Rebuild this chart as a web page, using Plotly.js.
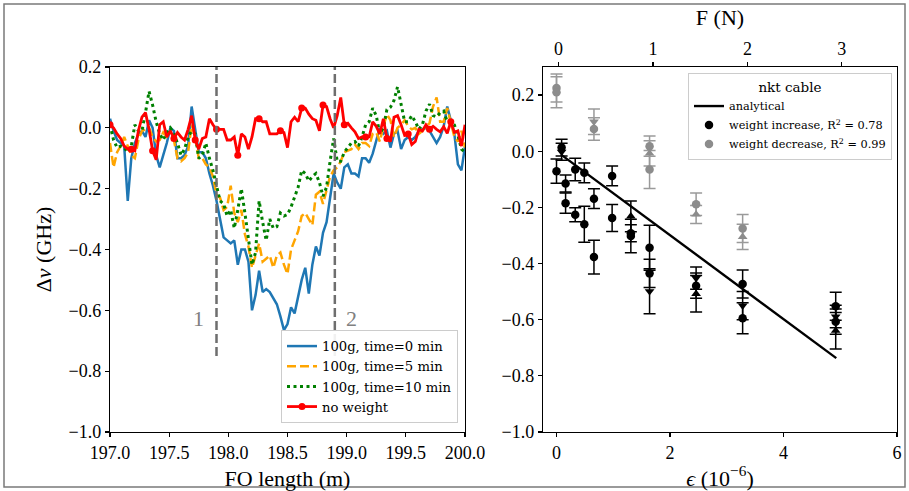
<!DOCTYPE html>
<html>
<head>
<meta charset="utf-8">
<script src="https://cdn.plot.ly/plotly-3.0.1.min.js"></script>
<style>html,body{margin:0;padding:0;background:#fff;}#chart{width:909px;height:491px;}</style>
</head>
<body>
<div id="chart"></div>
<script>
// ---------- Left panel data: frequency shift along the fibre ----------
const FO_LENGTH = [
197.00,197.03,197.06,197.09,197.12,197.15,197.18,197.21,197.24,197.27,
197.30,197.33,197.36,197.39,197.42,197.45,197.48,197.51,197.54,197.57,
197.60,197.63,197.66,197.69,197.72,197.75,197.78,197.81,197.84,197.87,
197.90,197.93,197.96,197.99,198.02,198.05,198.08,198.11,198.14,198.17,
198.20,198.23,198.26,198.29,198.32,198.35,198.38,198.41,198.44,198.47,
198.50,198.53,198.56,198.59,198.62,198.65,198.68,198.71,198.74,198.77,
198.80,198.83,198.86,198.89,198.92,198.95,198.98,199.01,199.04,199.07,
199.10,199.13,199.16,199.19,199.22,199.25,199.28,199.31,199.34,199.37,
199.40,199.43,199.46,199.49,199.52,199.55,199.58,199.61,199.64,199.67,
199.70,199.73,199.76,199.79,199.82,199.85,199.88,199.91,199.94,199.97,
200.00];

const SHIFT_T0 = [
0.03,-0.01,-0.04,-0.05,-0.06,-0.24,-0.10,-0.05,-0.02,-0.01,
-0.03,0.025,0.00,-0.09,-0.13,-0.09,-0.05,0.00,-0.01,-0.10,
-0.10,-0.09,-0.06,0.07,-0.01,-0.08,-0.08,-0.10,-0.15,-0.19,
-0.24,-0.30,-0.36,-0.37,-0.38,-0.37,-0.45,-0.40,-0.40,-0.44,
-0.60,-0.55,-0.47,-0.54,-0.53,-0.54,-0.56,-0.58,-0.62,-0.665,
-0.645,-0.59,-0.61,-0.55,-0.50,-0.46,-0.545,-0.45,-0.39,-0.42,
-0.345,-0.31,-0.23,-0.15,-0.18,-0.20,-0.13,-0.12,-0.15,-0.15,
-0.16,-0.10,-0.10,-0.115,-0.085,-0.04,0.00,-0.02,-0.01,-0.065,
-0.02,-0.01,-0.07,-0.04,-0.03,-0.04,-0.03,-0.01,-0.005,0.00,
-0.01,-0.03,-0.05,-0.03,0.005,0.07,0.025,-0.02,-0.12,-0.14,
-0.06];

const SHIFT_T5 = [
-0.05,-0.13,-0.08,-0.06,-0.03,-0.06,-0.09,-0.10,-0.04,-0.01,
-0.005,0.00,-0.03,-0.045,-0.04,-0.015,-0.03,-0.035,-0.04,-0.10,
-0.11,-0.10,-0.08,0.01,-0.03,-0.10,-0.10,-0.12,-0.13,-0.16,
-0.22,-0.23,-0.27,-0.26,-0.19,-0.28,-0.31,-0.27,-0.35,-0.39,
-0.46,-0.42,-0.38,-0.44,-0.43,-0.42,-0.46,-0.42,-0.41,-0.45,
-0.48,-0.40,-0.37,-0.34,-0.29,-0.28,-0.30,-0.32,-0.22,-0.21,
-0.25,-0.20,-0.16,-0.14,-0.13,-0.11,-0.08,-0.075,-0.07,-0.055,
-0.07,-0.05,-0.05,-0.06,-0.02,-0.015,-0.045,0.005,0.045,0.025,
-0.03,0.00,0.01,0.025,0.005,-0.005,0.00,-0.02,-0.01,0.005,
0.015,0.07,0.10,0.02,0.02,0.065,0.02,-0.03,-0.045,-0.01,
-0.065];

const SHIFT_T10 = [
0.01,-0.04,-0.065,-0.06,-0.065,-0.08,-0.06,0.01,-0.01,-0.01,
0.05,0.12,0.075,0.02,-0.02,-0.04,-0.015,0.00,-0.02,-0.05,
-0.09,-0.07,-0.03,-0.01,-0.02,-0.10,-0.09,-0.05,-0.10,-0.14,
-0.19,-0.24,-0.25,-0.29,-0.27,-0.33,-0.27,-0.20,-0.28,-0.37,
-0.45,-0.41,-0.24,-0.31,-0.37,-0.30,-0.33,-0.325,-0.28,-0.29,
-0.285,-0.26,-0.23,-0.195,-0.14,-0.15,-0.175,-0.16,-0.15,-0.18,
-0.225,-0.195,-0.11,-0.035,-0.11,-0.11,-0.08,-0.065,-0.05,-0.045,
-0.06,-0.03,0.01,0.02,0.065,0.04,-0.02,0.00,0.06,0.068,
0.09,0.135,0.08,0.02,0.02,0.04,0.02,-0.005,0.01,0.055,
0.078,0.04,0.036,0.05,0.055,0.02,0.02,0.01,-0.025,-0.07,
-0.08];

const SHIFT_NOWEIGHT = [
0.01,0.00,-0.02,-0.035,-0.06,-0.07,-0.07,-0.075,-0.01,0.035,
0.05,-0.005,-0.075,-0.105,0.01,0.02,-0.03,-0.01,-0.035,-0.015,
-0.03,-0.04,-0.005,0.04,-0.04,-0.07,-0.035,-0.03,0.03,0.01,
-0.005,-0.005,-0.005,-0.04,-0.04,-0.03,-0.09,-0.02,-0.03,-0.07,
-0.03,0.03,0.03,0.02,0.02,-0.02,-0.02,-0.02,-0.01,-0.015,
-0.065,0.02,0.035,0.02,0.065,0.065,0.045,0.03,0.025,-0.01,
0.075,0.07,0.03,0.00,0.04,0.10,0.01,0.015,0.00,-0.013,
-0.035,-0.03,-0.03,-0.03,0.02,0.005,-0.02,0.03,-0.035,-0.045,
0.035,0.04,0.01,-0.025,-0.02,-0.055,-0.045,-0.005,-0.01,0.01,
-0.005,0.005,-0.005,-0.013,0.004,-0.018,0.02,-0.015,-0.01,-0.06,
0.01];

const SERIES_NAMES = ['100g, time=0 min','100g, time=5 min','100g, time=10 min','no weight'];
const SECTION_BOUNDS = [197.9, 198.9];
const SECTION_LABELS = ['1','2'];
const SECTION_LABEL_X = [197.75, 199.045];
const SECTION_LABEL_Y = -0.626;
const SECTION_LINE_Y = [-0.75, 0.2];

// ---------- Right panel data: shift vs strain ----------
const INC_EPS = [0.0,0.09,0.09,0.16,0.16,0.33,0.33,0.49,0.49,0.66,0.66,0.98,0.98,1.31,1.31,1.31,1.64,1.64,1.64,2.46,2.46,2.46,3.28,3.28,3.28,4.92,4.92,4.92,4.92];
const INC_DNU = [-0.071,0.013,-0.002,-0.115,-0.185,-0.065,-0.226,-0.077,-0.26,-0.169,-0.377,-0.088,-0.238,-0.232,-0.292,-0.302,-0.344,-0.435,-0.499,-0.452,-0.479,-0.508,-0.473,-0.55,-0.595,-0.552,-0.589,-0.607,-0.639];
const INC_ERR = [0.043,0.03,0.03,0.03,0.036,0.04,0.025,0.035,0.064,0.035,0.06,0.035,0.048,0.055,0.03,0.06,0.08,0.05,0.08,0.04,0.045,0.065,0.05,0.05,0.055,0.05,0.04,0.045,0.065];
const INC_SYM = ['circle','circle','triangle-down','circle','circle','circle','circle','circle','circle','circle','circle','circle','circle','triangle-up','circle','circle','circle','circle','triangle-down','triangle-down','circle','triangle-up','circle','triangle-down','circle','circle','triangle-down','circle','triangle-up'];

const DEC_EPS = [0.0,0.0,0.66,0.66,1.64,1.64,1.64,2.46,2.46,3.28,3.28];
const DEC_DNU = [0.225,0.21,0.105,0.079,0.018,-0.008,-0.065,-0.189,-0.225,-0.275,-0.305];
const DEC_ERR = [0.05,0.055,0.045,0.04,0.036,0.045,0.068,0.04,0.032,0.05,0.045];
const DEC_SYM = ['circle','circle','triangle-down','circle','circle','triangle-up','circle','circle','triangle-up','circle','triangle-up'];

const ANALYTIC_EPS = [0.08, 4.93];
const ANALYTIC_DNU = [-0.012, -0.737];

const F_TICKS = [0,1,2,3];
const EPS_TICKS = [0,2,4,6];

// ---------- figure geometry (pixels of the 909x491 canvas) ----------
const W = 909, H = 491;
const px = v => v / W;
const py = v => 1 - v / H;

const FONT = 'Liberation Serif';
const LFONT = 'DejaVu Serif';

const markerColors = FO_LENGTH.map((_, i) => (i % 6 === 0 ? '#ff0000' : 'rgba(0,0,0,0)'));

const traces = [
  {x: FO_LENGTH, y: SHIFT_T0, name: SERIES_NAMES[0], type: 'scatter', mode: 'lines',
   line: {color: '#1f77b4', width: 2.5}, xaxis: 'x', yaxis: 'y', legend: 'legend'},
  {x: FO_LENGTH, y: SHIFT_T5, name: SERIES_NAMES[1], type: 'scatter', mode: 'lines',
   line: {color: '#ffa500', width: 2.5, dash: '9px,4px'}, xaxis: 'x', yaxis: 'y', legend: 'legend'},
  {x: FO_LENGTH, y: SHIFT_T10, name: SERIES_NAMES[2], type: 'scatter', mode: 'lines',
   line: {color: '#008000', width: 3, dash: '3px,3.5px'}, xaxis: 'x', yaxis: 'y', legend: 'legend'},
  {x: FO_LENGTH, y: SHIFT_NOWEIGHT, name: SERIES_NAMES[3], type: 'scatter', mode: 'lines+markers',
   line: {color: '#ff0000', width: 2.8}, marker: {color: markerColors, size: 7},
   xaxis: 'x', yaxis: 'y', legend: 'legend'},
  // right panel
  {x: ANALYTIC_EPS, y: ANALYTIC_DNU, name: 'analytical', type: 'scatter', mode: 'lines',
   line: {color: 'black', width: 2.4}, xaxis: 'x2', yaxis: 'y2', legend: 'legend2'},
  {x: INC_EPS, y: INC_DNU, name: 'weight increase, R<sup>2</sup> = 0.78', type: 'scatter', mode: 'markers',
   marker: {color: 'black', size: 8.5, symbol: INC_SYM},
   error_y: {type: 'data', array: INC_ERR, visible: true, color: 'black', thickness: 1.5, width: 6},
   xaxis: 'x2', yaxis: 'y2', legend: 'legend2'},
  {x: DEC_EPS, y: DEC_DNU, name: 'weight decrease, R<sup>2</sup> = 0.99', type: 'scatter', mode: 'markers',
   marker: {color: '#8c8c8c', size: 8.5, symbol: DEC_SYM},
   error_y: {type: 'data', array: DEC_ERR, visible: true, color: '#9a9a9a', thickness: 1.5, width: 6},
   xaxis: 'x2', yaxis: 'y2', legend: 'legend2'},
  // helper so the top force axis is drawn
  {x: F_TICKS, y: F_TICKS.map(() => null), type: 'scatter', mode: 'lines', showlegend: false,
   hoverinfo: 'skip', xaxis: 'x3', yaxis: 'y2'}
];

const axisCommon = {
  showline: true, linecolor: 'black', linewidth: 1.2, ticks: 'outside', ticklen: 4,
  tickwidth: 1.2, tickcolor: 'black', showgrid: false, zeroline: false,
  tickfont: {family: FONT, size: 18, color: 'black'}, automargin: false
};

const shapes = SECTION_BOUNDS.map(b => ({
  type: 'line', xref: 'x', yref: 'y', x0: b, x1: b, y0: SECTION_LINE_Y[0], y1: SECTION_LINE_Y[1],
  line: {color: '#6e6e6e', width: 2.5, dash: '9px,4px'}
}));
shapes.push({type: 'rect', xref: 'paper', yref: 'paper', x0: px(4), x1: px(905), y0: py(487), y1: py(4),
  line: {color: '#7a7a7a', width: 1.5}});

const annotations = SECTION_LABELS.map((t, i) => ({
  text: t, x: SECTION_LABEL_X[i], y: SECTION_LABEL_Y, xref: 'x', yref: 'y', showarrow: false,
  font: {family: FONT, size: 22, color: '#808080'}
}));

const layout = {
  width: W, height: H,
  margin: {l: 0, r: 0, t: 0, b: 0},
  paper_bgcolor: 'white', plot_bgcolor: 'white',
  font: {family: FONT, size: 18, color: 'black'},
  showlegend: true,
  xaxis: Object.assign({}, axisCommon, {
    domain: [px(110), px(465)], range: [197, 200], tick0: 197, dtick: 0.5, tickformat: '.1f',
    mirror: true, anchor: 'y',
    title: {text: 'FO length (m)', font: {family: FONT, size: 22}, standoff: 8}
  }),
  yaxis: Object.assign({}, axisCommon, {
    domain: [py(432), py(67)], range: [-1.0, 0.2], tick0: 0, dtick: 0.2, tickformat: '.1f',
    mirror: true, anchor: 'x',
    title: {text: 'Δ<i>ν</i> (GHz)', font: {family: FONT, size: 22}, standoff: 10}
  }),
  xaxis2: Object.assign({}, axisCommon, {
    domain: [px(543), px(897)], range: [-0.238, 6.0], tickvals: EPS_TICKS, tickformat: 'd',
    mirror: false, anchor: 'y2',
    title: {text: '<i>ϵ</i> (10<sup>−6</sup>)', font: {family: FONT, size: 22}, standoff: 8}
  }),
  yaxis2: Object.assign({}, axisCommon, {
    domain: [py(432), py(67)], range: [-1.0, 0.3], tick0: 0, dtick: 0.2, tickformat: '.1f',
    mirror: true, anchor: 'x2'
  }),
  xaxis3: Object.assign({}, axisCommon, {
    overlaying: 'x2', side: 'top', anchor: 'y2', range: [-0.165, 3.585], tickvals: F_TICKS,
    tickformat: 'd',
    title: {text: 'F (N)', font: {family: FONT, size: 22}, standoff: 6}
  }),
  legend: {
    x: px(458), xanchor: 'right', y: py(423), yanchor: 'bottom',
    bgcolor: 'rgba(255,255,255,0.9)', bordercolor: '#cccccc', borderwidth: 1,
    font: {family: LFONT, size: 13.2, color: 'black'}, tracegroupgap: 0, traceorder: 'normal'
  },
  legend2: {
    x: px(892), xanchor: 'right', y: py(73), yanchor: 'top',
    bgcolor: 'rgba(255,255,255,0.9)', bordercolor: '#cccccc', borderwidth: 1,
    font: {family: LFONT, size: 11.3, color: 'black'}, tracegroupgap: 0, traceorder: 'normal',
    title: {text: 'nkt cable', side: 'top center', font: {family: LFONT, size: 13.5}}
  },
  shapes: shapes,
  annotations: annotations
};

Plotly.newPlot('chart', traces, layout, {staticPlot: true, displayModeBar: false});
</script>
</body>
</html>
